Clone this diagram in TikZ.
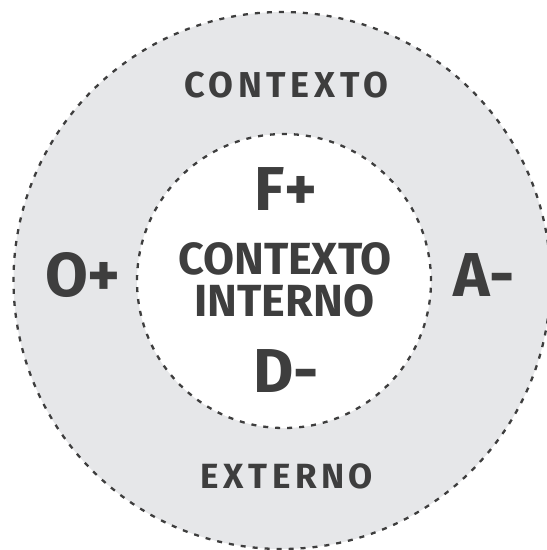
\documentclass[tikz,border=0pt]{standalone}
\usepackage{fontspec}
\setmainfont{Fira Sans}
\newfontfamily\widefont[LetterSpace=13]{Fira Sans}
\usepackage{xcolor}
\usepackage{tikz}
\definecolor{ringgray}{HTML}{E6E7E9}
\definecolor{inkgray}{HTML}{3E3E3E}

\begin{document}
\begin{tikzpicture}[x=1pt,y=-1pt,
		ring/.style={circle,draw=inkgray,line width=2.3pt,dash pattern=on 5pt off 7pt,inner sep=0pt},
		letter/.style={text=inkgray,inner sep=0pt,font=\fontsize{62}{62}\selectfont\bfseries},
		middle/.style={text=inkgray,inner sep=0pt,font=\fontsize{45}{45}\selectfont\bfseries},
		label/.style={text=inkgray,inner sep=0pt,font=\fontsize{36}{36}\selectfont\widefont\bfseries}]
		\useasboundingbox (0,0) rectangle (547,550);
		\node[ring,fill=ringgray,minimum size=537pt] (outer) at (282,280.5) {};
		\node[ring,fill=white,minimum size=294pt] (inner) at (284,281) {};
		% outer ring texts
		\node[label] (top) at (286,85.2) {CONTEXTO};
		\node[label,font=\fontsize{35}{35}\selectfont\widefont\bfseries] (bottom) at (287,476.2) {EXTERNO};
		\node[letter] (opp) at (83,275) {O+};
		\node[letter] (thr) at (484.3,275) {A-};
		% inner circle texts
		\node[letter] (str) at (285.8,189.2) {F+};
		\node[middle] (mid1) at (285,259) {CONTEXTO};
		\node[middle] (mid2) at (284.5,300.5) {INTERNO};
		\node[letter] (wea) at (286,371.3) {D-};
	\end{tikzpicture}
\end{document}
